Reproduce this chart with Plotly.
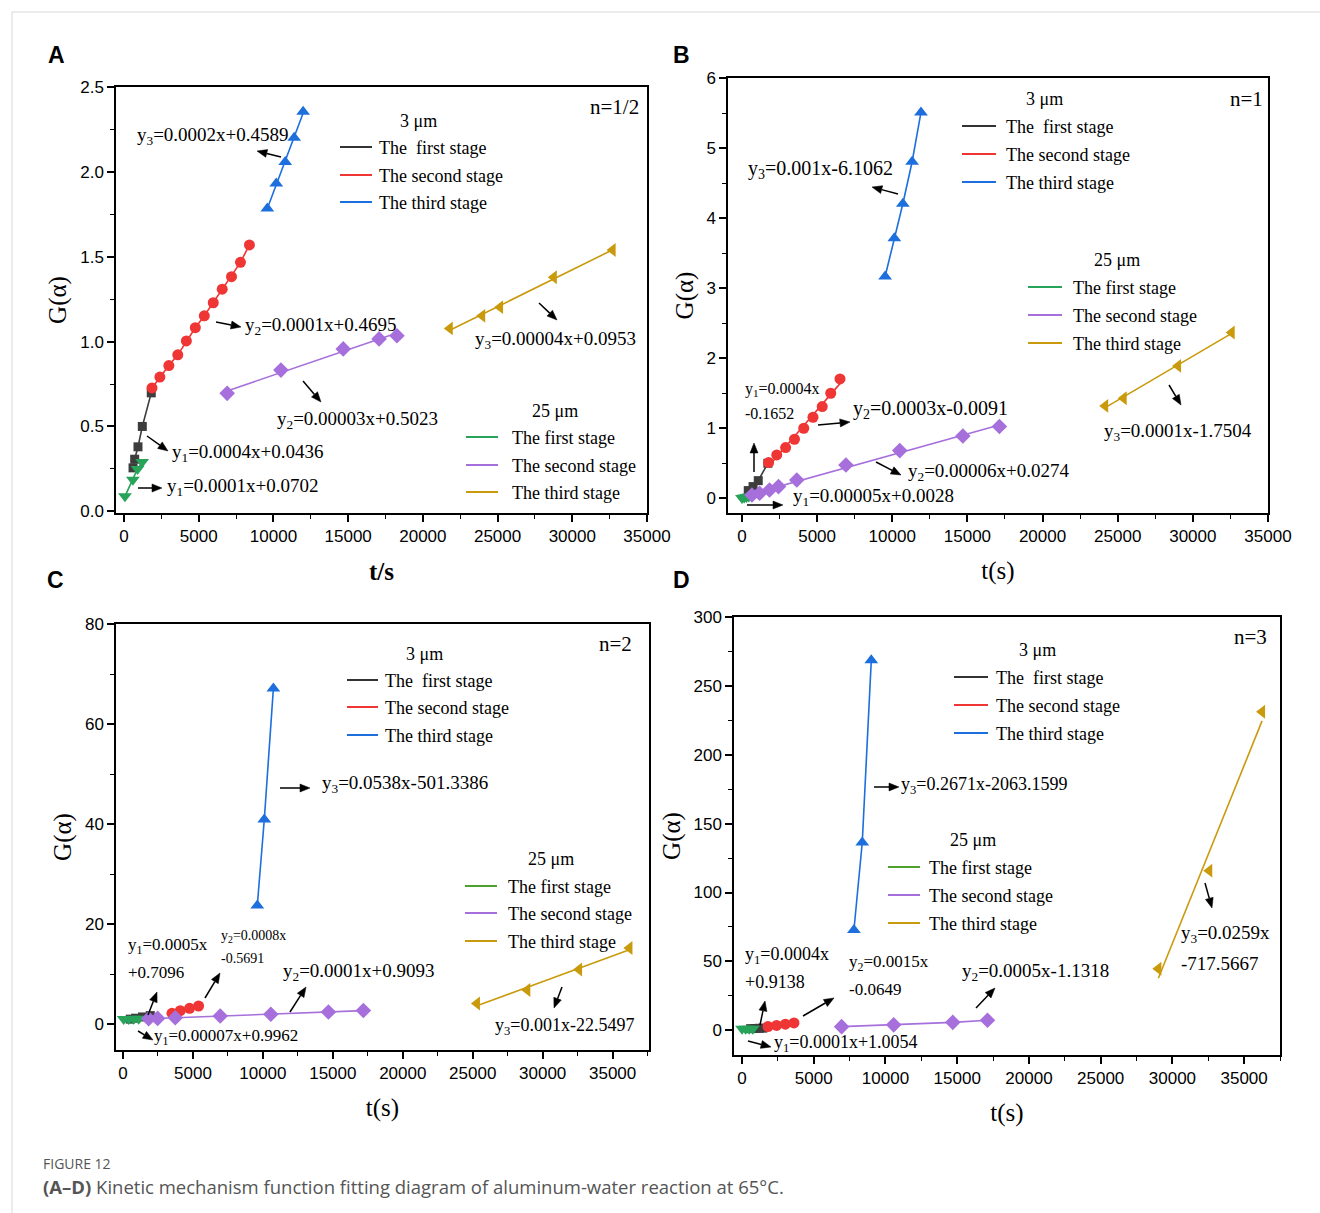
import numpy as np
import plotly.graph_objects as go

W, H = 1320, 1213
SERIF = "Liberation Serif, Times New Roman, serif"
SANS = "Liberation Sans, Arial, sans-serif"

# ---------------- data : t (s) and G(alpha) ----------------
# Panel A : n = 1/2
A_s1_t = [600, 710, 932, 1221, 1820]
A_s1_g = [0.256, 0.307, 0.380, 0.500, 0.698]
A_s2_t = [1870, 2397, 2996, 3596, 4171, 4770, 5369, 5969, 6568, 7191, 7790, 8390]
A_s2_g = [0.727, 0.791, 0.859, 0.922, 1.004, 1.082, 1.152, 1.229, 1.309, 1.383, 1.467, 1.570]
A_s3_t = [9588, 10187, 10787, 11386, 11985]
A_s3_g = [1.785, 1.932, 2.059, 2.201, 2.354]
A_l1_t = [60, 590, 900, 1210]
A_l1_g = [0.088, 0.186, 0.250, 0.290]
A_l2_t = [6900, 10499, 14670, 17067, 18265]
A_l2_g = [0.695, 0.832, 0.957, 1.016, 1.035]
A_l3_t = [21800, 23970, 25168, 28764, 32700]
A_l3_g = [1.078, 1.152, 1.203, 1.379, 1.540]

# Panel B : n = 1
B_s1_t = [418, 738, 1083, 1723]
B_s1_g = [0.11, 0.167, 0.252, 0.50]
B_s2_t = [1772, 2313, 2904, 3494, 4110, 4725, 5340, 5906, 6522]
B_s2_g = [0.510, 0.619, 0.724, 0.843, 1.000, 1.157, 1.310, 1.500, 1.705]
B_s3_t = [9524, 10139, 10705, 11321, 11911]
B_s3_g = [3.167, 3.714, 4.205, 4.805, 5.510]
B_l1_t = [0, 150, 300, 450]
B_l1_g = [0.003, 0.010, 0.018, 0.025]
B_l2_t = [663, 1171, 1834, 2431, 3647, 6917, 10498, 14697, 17128]
B_l2_g = [0.048, 0.071, 0.119, 0.167, 0.262, 0.476, 0.681, 0.890, 1.024]
B_l3_t = [24167, 25397, 29015, 32584]
B_l3_g = [1.319, 1.429, 1.890, 2.367]

# Panel C : n = 2
C_s1_t = [520, 900, 1400, 1950]
C_s1_g = [0.97, 1.16, 1.41, 1.68]
C_s2_t = [3500, 4094, 4760, 5403]
C_s2_g = [2.13, 2.67, 3.13, 3.60]
C_s3_t = [9600, 10100, 10750]
C_s3_g = [23.7, 40.9, 67.1]
C_l1_t = [48, 405, 762, 1119]
C_l1_g = [1.00, 1.01, 1.04, 1.07]
C_l2_t = [1833, 2475, 3737, 6950, 10567, 14685, 17184]
C_l2_g = [1.05, 1.12, 1.25, 1.60, 1.95, 2.40, 2.70]
C_l3_t = [25300, 28900, 32600, 36200]
C_l3_g = [4.1, 6.8, 10.9, 15.2]

# Panel D : n = 3
D_s1_t = [600, 900, 1200, 1450]
D_s1_g = [1.15, 1.27, 1.39, 1.49]
D_s2_t = [1810, 2410, 3020, 3620]
D_s2_g = [2.7, 3.5, 4.4, 5.3]
D_s3_t = [7800, 8380, 9010]
D_s3_g = [72.8, 136.3, 268.6]
D_l1_t = [0, 250, 500, 750]
D_l1_g = [1.00, 1.03, 1.05, 1.08]
D_l2_t = [6940, 10570, 14690, 17110]
D_l2_g = [2.6, 3.9, 5.7, 7.2]
D_l3_t = [29020, 32570, 36250]
D_l3_g = [44.6, 115.9, 231.3]

N_LABELS = ["n=1/2", "n=1", "n=2", "n=3"]
PANEL_LETTERS = ["A", "B", "C", "D"]
X_TITLES = ["<b>t/s</b>", "t(s)", "t(s)", "t(s)"]
Y_TITLE = "G(\u03b1)"
LEG_TITLES = ["3 \u03bcm", "25 \u03bcm"]
LEG_3 = ["The\u00a0 first stage", "The second stage", "The third stage"]
LEG_25 = ["The first stage", "The second stage", "The third stage"]

EQ_A = ["y<sub>3</sub>=0.0002x+0.4589", "y<sub>2</sub>=0.0001x+0.4695",
        "y<sub>2</sub>=0.00003x+0.5023", "y<sub>3</sub>=0.00004x+0.0953",
        "y<sub>1</sub>=0.0004x+0.0436", "y<sub>1</sub>=0.0001x+0.0702"]
EQ_B = ["y<sub>3</sub>=0.001x-6.1062", "y<sub>1</sub>=0.0004x", "-0.1652",
        "y<sub>2</sub>=0.0003x-0.0091", "y<sub>2</sub>=0.00006x+0.0274",
        "y<sub>1</sub>=0.00005x+0.0028", "y<sub>3</sub>=0.0001x-1.7504"]
EQ_C = ["y<sub>3</sub>=0.0538x-501.3386", "y<sub>1</sub>=0.0005x", "+0.7096",
        "y<sub>2</sub>=0.0008x", "-0.5691", "y<sub>2</sub>=0.0001x+0.9093",
        "y<sub>1</sub>=0.00007x+0.9962", "y<sub>3</sub>=0.001x-22.5497"]
EQ_D = ["y<sub>3</sub>=0.2671x-2063.1599", "y<sub>1</sub>=0.0004x", "+0.9138",
        "y<sub>2</sub>=0.0015x", "-0.0649", "y<sub>2</sub>=0.0005x-1.1318",
        "y<sub>1</sub>=0.0001x+1.0054", "y<sub>3</sub>=0.0259x", "-717.5667"]

# ---------------- styles ----------------
STY = {
    "s1": dict(color="#3d3d3d", symbol="square", size=9),
    "s2": dict(color="#f03535", symbol="circle", size=11),
    "s3": dict(color="#1c6fdc", symbol="triangle-up", size=12),
    "l1": dict(color="#27a35a", symbol="triangle-down", size=12),
    "l2": dict(color="#a66fdc", symbol="diamond", size=12),
    "l3": dict(color="#c99a0c", symbol="triangle-left", size=12),
}
LEG_COLORS_3 = ["#333333", "#f03535", "#1c6fdc"]
LEG_COLORS_25 = [["#27a35a", "#a66fdc", "#c99a0c"], ["#27a35a", "#a66fdc", "#c99a0c"],
                 ["#4ea12c", "#a66fdc", "#c99a0c"], ["#4ea12c", "#a66fdc", "#c99a0c"]]

panels = [
    dict(series={"s1": (A_s1_t, A_s1_g), "s2": (A_s2_t, A_s2_g), "s3": (A_s3_t, A_s3_g),
                 "l1": (A_l1_t, A_l1_g), "l2": (A_l2_t, A_l2_g), "l3": (A_l3_t, A_l3_g)},
         fit={"s3", "l2", "l3"},
         box=(116, 87, 647, 513), xr=[-540, 35001], yr=[-0.01, 2.5005],
         ydt=0.5, ymin=0.25, yfmt=".1f", xstand=17),
    dict(series={"s1": (B_s1_t, B_s1_g), "s2": (B_s2_t, B_s2_g), "s3": (B_s3_t, B_s3_g),
                 "l1": (B_l1_t, B_l1_g), "l2": (B_l2_t, B_l2_g), "l3": (B_l3_t, B_l3_g)},
         fit={"s2", "l2", "l3"},
         box=(728, 78, 1268, 513), xr=[-930, 35001], yr=[-0.21, 6.001],
         ydt=1, ymin=0.5, yfmt="d", xstand=16),
    dict(series={"s1": (C_s1_t, C_s1_g), "s2": (C_s2_t, C_s2_g), "s3": (C_s3_t, C_s3_g),
                 "l1": (C_l1_t, C_l1_g), "l2": (C_l2_t, C_l2_g), "l3": (C_l3_t, C_l3_g)},
         fit={"l2", "l3"},
         box=(116, 624, 649, 1050), xr=[-500, 37600], yr=[-5.2, 80.01],
         ydt=20, ymin=10, yfmt="d", xstand=16),
    dict(series={"s1": (D_s1_t, D_s1_g), "s2": (D_s2_t, D_s2_g), "s3": (D_s3_t, D_s3_g),
                 "l1": (D_l1_t, D_l1_g), "l2": (D_l2_t, D_l2_g), "l3": (D_l3_t, D_l3_g)},
         fit={"l3"},
         box=(734, 617, 1280, 1055), xr=[-560, 37500], yr=[-18, 300.1],
         ydt=50, ymin=25, yfmt="d", xstand=16),
]

fig = go.Figure()
layout = {}

for i, p in enumerate(panels):
    k = "" if i == 0 else str(i + 1)
    xa, ya = "x" + k, "y" + k
    L, T, R, B = p["box"]
    layout["xaxis" + k] = dict(
        domain=[L / W, R / W], range=p["xr"], anchor=ya,
        showline=True, linecolor="black", linewidth=1.5, mirror=True,
        ticks="outside", ticklen=7, tickwidth=1.5, tickcolor="black",
        tick0=0, dtick=5000, tickformat="d",
        tickfont=dict(family=SANS, size=17, color="black"),
        minor=dict(ticks="outside", ticklen=4, tickwidth=1.2, tickcolor="black", dtick=2500, tick0=0),
        showgrid=False, zeroline=False, automargin=False,
        title=dict(text=X_TITLES[i], font=dict(family=SERIF, size=25, color="black"), standoff=p["xstand"]),
    )
    layout["yaxis" + k] = dict(
        domain=[1 - B / H, 1 - T / H], range=p["yr"], anchor=xa,
        showline=True, linecolor="black", linewidth=1.5, mirror=True,
        ticks="outside", ticklen=7, tickwidth=1.5, tickcolor="black",
        tick0=0, dtick=p["ydt"], tickformat=p["yfmt"],
        tickfont=dict(family=SANS, size=17, color="black"),
        minor=dict(ticks="outside", ticklen=4, tickwidth=1.2, tickcolor="black", dtick=p["ymin"], tick0=0),
        showgrid=False, zeroline=False, automargin=False,
        title=dict(text=Y_TITLE, font=dict(family=SERIF, size=25, color="black"), standoff=6),
    )
    for key in ["s1", "s2", "s3", "l1", "l2", "l3"]:
        t, g = p["series"][key]
        st = STY[key]
        if key in p["fit"]:
            kk, bb = np.polyfit(t, g, 1)
            xs = np.array([min(t), max(t)], dtype=float)
            fig.add_trace(go.Scatter(x=xs, y=kk * xs + bb, mode="lines", xaxis=xa, yaxis=ya,
                                     line=dict(color=st["color"], width=1.6), showlegend=False,
                                     hoverinfo="skip"))
            mode = "markers"
        else:
            mode = "lines+markers"
        fig.add_trace(go.Scatter(x=t, y=g, mode=mode, xaxis=xa, yaxis=ya,
                                 line=dict(color=st["color"], width=1.6),
                                 marker=dict(color=st["color"], symbol=st["symbol"], size=st["size"],
                                             line=dict(width=0)),
                                 showlegend=False))

annotations = []
shapes = []


def P(px, py):
    return px / W, 1 - py / H


def txt(px, py, text, size=19, anchor="left", family=SERIF, color="black"):
    x, y = P(px, py)
    annotations.append(dict(x=x, y=y, xref="paper", yref="paper", text=text,
                            showarrow=False, xanchor=anchor, yanchor="middle",
                            font=dict(family=family, size=size, color=color)))


def arrow(tx, ty, hx, hy, head=10.0, half=4.0):
    d = np.array([hx - tx, hy - ty], dtype=float)
    u = d / np.linalg.norm(d)
    nrm = np.array([-u[1], u[0]])
    tip = np.array([hx, hy], dtype=float)
    base = tip - u * head
    p1, p2 = base + nrm * half, base - nrm * half
    a = P(tx, ty)
    b = P(*base)
    shapes.append(dict(type="path", xref="paper", yref="paper",
                       path=f"M {a[0]:.5f},{a[1]:.5f} L {b[0]:.5f},{b[1]:.5f}",
                       line=dict(color="black", width=1.5)))
    q0, q1, q2 = P(*tip), P(*p1), P(*p2)
    shapes.append(dict(type="path", xref="paper", yref="paper",
                       path=f"M {q0[0]:.5f},{q0[1]:.5f} L {q1[0]:.5f},{q1[1]:.5f} L {q2[0]:.5f},{q2[1]:.5f} Z",
                       fillcolor="black", line=dict(color="black", width=0.5)))


def legend_block(title_xy, rows_y, line_x, text_x, labels, colors, title):
    txt(title_xy[0], title_xy[1], title, 18, anchor="center")
    for yy, lab, col in zip(rows_y, labels, colors):
        x0, y0 = P(line_x[0], yy - 1)
        x1, _ = P(line_x[1], yy - 1)
        shapes.append(dict(type="line", xref="paper", yref="paper",
                           x0=x0, x1=x1, y0=y0, y1=y0, line=dict(color=col, width=2)))
        txt(text_x, yy, lab, 18)


# Panel A
txt(135, 136, EQ_A[0], 19); arrow(281, 157, 257, 151)
txt(243, 326, EQ_A[1], 19); arrow(216, 322, 241, 327)
txt(275, 420, EQ_A[2], 19); arrow(303, 381, 321, 402)
txt(473, 340, EQ_A[3], 19); arrow(539, 303, 557, 320)
txt(170, 453, EQ_A[4], 19); arrow(147, 436, 168, 451)
txt(165, 487, EQ_A[5], 19); arrow(138, 488, 162, 488)
txt(641, 107, N_LABELS[0], 21, anchor="right")
legend_block((418, 121), [148, 176, 203], (340, 372), 377, LEG_3, LEG_COLORS_3, LEG_TITLES[0])
legend_block((555, 411), [438, 466, 493], (466, 498), 510, LEG_25, LEG_COLORS_25[0], LEG_TITLES[1])

# Panel B
txt(746, 169, EQ_B[0], 20); arrow(898, 194, 872, 187)
txt(743, 389, EQ_B[1], 16); txt(743, 413, EQ_B[2], 16); arrow(754, 472, 754, 443)
txt(851, 409, EQ_B[3], 20); arrow(818, 425, 850, 422)
txt(906, 472, EQ_B[4], 19); arrow(876, 462, 901, 475)
txt(791, 497, EQ_B[5], 19); arrow(747, 505, 783, 505)
txt(1102, 432, EQ_B[6], 19); arrow(1169, 385, 1181, 405)
txt(1265, 99, N_LABELS[1], 21, anchor="right")
legend_block((1044, 99), [127, 155, 183], (962, 996), 1004, LEG_3, LEG_COLORS_3, LEG_TITLES[0])
legend_block((1117, 260), [288, 316, 344], (1028, 1062), 1071, LEG_25, LEG_COLORS_25[1], LEG_TITLES[1])

# Panel C
txt(320, 784, EQ_C[0], 19); arrow(280, 788, 310, 788)
txt(126, 946, EQ_C[1], 17); txt(126, 972, EQ_C[2], 17); arrow(148, 1015, 157, 992)
txt(219, 936, EQ_C[3], 14); txt(219, 958, EQ_C[4], 14); arrow(205, 998, 220, 973)
txt(281, 972, EQ_C[5], 19); arrow(290, 1012, 306, 987)
txt(152, 1037, EQ_C[6], 17); arrow(138, 1031, 153, 1040)
txt(493, 1026, EQ_C[7], 18); arrow(562, 987, 554, 1008)
txt(634, 644, N_LABELS[2], 21, anchor="right")
legend_block((424, 654), [681, 708, 736], (347, 378), 383, LEG_3, LEG_COLORS_3, LEG_TITLES[0])
legend_block((551, 859), [887, 914, 942], (465, 497), 506, LEG_25, LEG_COLORS_25[2], LEG_TITLES[1])

# Panel D
txt(899, 785, EQ_D[0], 18); arrow(874, 787, 899, 787)
txt(743, 955, EQ_D[1], 18); txt(743, 982, EQ_D[2], 18); arrow(760, 1025, 765, 1001)
txt(847, 963, EQ_D[3], 17); txt(847, 989, EQ_D[4], 17); arrow(803, 1016, 834, 998)
txt(960, 972, EQ_D[5], 19); arrow(976, 1008, 995, 988)
txt(772, 1043, EQ_D[6], 18); arrow(748, 1041, 771, 1047)
txt(1179, 934, EQ_D[7], 19); txt(1179, 963, EQ_D[8], 19); arrow(1205, 883, 1212, 908)
txt(1269, 637, N_LABELS[3], 21, anchor="right")
legend_block((1037, 650), [678, 706, 734], (954, 988), 994, LEG_3, LEG_COLORS_3, LEG_TITLES[0])
legend_block((973, 840), [868, 896, 924], (888, 920), 927, LEG_25, LEG_COLORS_25[3], LEG_TITLES[1])

# panel letters
for (px, py), letter in zip([(56, 55), (681, 55), (55, 580), (681, 580)], PANEL_LETTERS):
    txt(px, py, "<b>" + letter + "</b>", 23, anchor="center", family=SANS)

# caption
txt(41, 1163, "FIGURE 12", 14, family="Open Sans, sans-serif", color="#555555")
txt(41, 1186, "<b>(A\u2013D)</b> Kinetic mechanism function fitting diagram of aluminum-water reaction at 65\u00b0C.",
    18.5, family="Open Sans, sans-serif", color="#555555")

# page frame lines
shapes.append(dict(type="line", xref="paper", yref="paper", x0=12 / W, x1=1, y0=1 - 12 / H, y1=1 - 12 / H,
                   line=dict(color="#d8d8d8", width=1)))
shapes.append(dict(type="line", xref="paper", yref="paper", x0=12 / W, x1=12 / W, y0=0, y1=1 - 12 / H,
                   line=dict(color="#d8d8d8", width=1)))

layout.update(dict(width=W, height=H, margin=dict(l=0, r=0, t=0, b=0),
                   paper_bgcolor="white", plot_bgcolor="white", showlegend=False,
                   annotations=annotations, shapes=shapes))
fig.update_layout(**layout)

fig.write_html("out.html", config={"displayModeBar": False},
               post_script="document.body.style.margin='0';document.body.style.overflow='hidden';")
